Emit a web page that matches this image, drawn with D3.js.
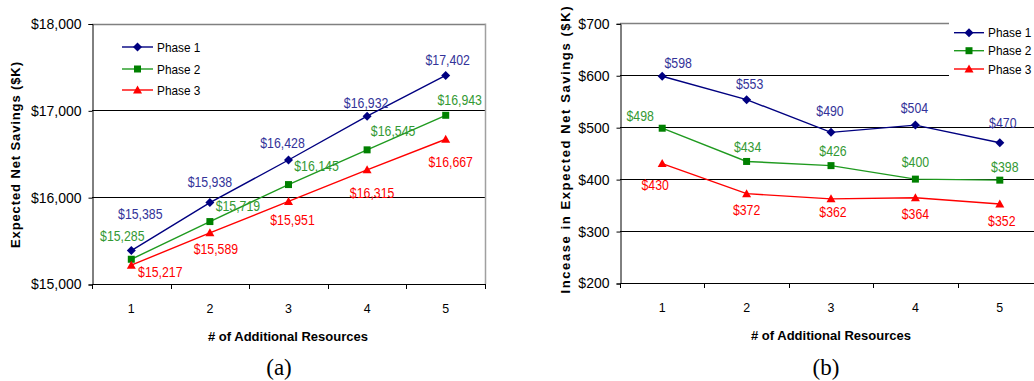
<!DOCTYPE html>
<html>
<head>
<meta charset="utf-8">
<script src="https://cdn.jsdelivr.net/npm/d3@7"></script>
<style>
  html, body { margin: 0; padding: 0; background: #fff; }
  svg { display: block; font-family: "Liberation Sans", Arial, sans-serif; }
</style>
</head>
<body>
<svg id="chart" width="1034" height="381"></svg>
<script>
// ---------- data ----------
const categories = [1, 2, 3, 4, 5];
const seriesNames = ["Phase 1", "Phase 2", "Phase 3"];

const savingsPhase1 = [15385, 15938, 16428, 16932, 17402];
const savingsPhase2 = [15285, 15719, 16145, 16545, 16943];
const savingsPhase3 = [15217, 15589, 15951, 16315, 16667];

const increasePhase1 = [598, 553, 490, 504, 470];
const increasePhase2 = [498, 434, 426, 400, 398];
const increasePhase3 = [430, 372, 362, 364, 352];

const ticksA = [15000, 16000, 17000, 18000];
const ticksB = [200, 300, 400, 500, 600, 700];

const xTitle = "# of Additional Resources";
const yTitleA = "Expected Net Savings ($K)";
const yTitleB = "Incease in Expected Net Savings ($K)";

// ---------- styles / layout ----------
const lineColors = ["#000080", "#1f9a1f", "#ff0000"];
const markColors = ["#000080", "#008000", "#ff0000"];
const labelColors = ["#333399", "#339933", "#ff0000"];
const shapes = ["diamond", "square", "triangle"];

// label offsets (dx, dy) relative to each point
const labelOffsetsA = [
  [[9, -37], [0, -21], [-6, -17], [-1, -13], [2, -15]],
  [[-9, -23], [28, -16], [28, -19], [26, -19], [14, -15]],
  [[29, 7], [6, 16], [4, 19], [5, 23], [5, 23]]
];
const labelOffsetsB = [
  [[16, -13], [3, -16], [-1, -21], [-1, -17], [3, -20]],
  [[-22, -12], [1, -15], [2, -15], [0, -17], [5, -13]],
  [[-7, 21], [0, 16], [2, 13], [0, 16], [2, 17]]
];

const svg = d3.select("#chart");

function markerPath(shape) {
  if (shape === "diamond") return "M0,-4.5L4.5,0L0,4.5L-4.5,0Z";
  if (shape === "square") return "M-3.5,-3.5H3.5V3.5H-3.5Z";
  return "M0,-4.5L4.5,3.5H-4.5Z";
}

function drawChart(cfg) {
  const g = svg.append("g");
  const x = d3.scaleBand().domain(categories).range([cfg.left, cfg.right]);
  const y = d3.scaleLinear().domain(cfg.yDomain).range([cfg.bottom, cfg.top]);

  // gridlines
  g.selectAll("line.grid")
    .data(cfg.yTicks.filter(t => t !== cfg.yDomain[0]))
    .enter().append("line")
    .attr("x1", cfg.left).attr("x2", d => d === cfg.yDomain[1] ? cfg.topLineEnd : cfg.gridEnd)
    .attr("y1", d => Math.round(y(d)) + 0.5).attr("y2", d => Math.round(y(d)) + 0.5)
    .attr("stroke", d => d === cfg.yDomain[1] ? "#808080" : "#000")
    .attr("stroke-width", d => d === cfg.yDomain[1] ? 1.5 : 1);

  // right border (gray)
  if (cfg.rightBorder) {
    g.append("line")
      .attr("x1", cfg.right + 0.5).attr("x2", cfg.right + 0.5)
      .attr("y1", y(cfg.yDomain[1])).attr("y2", cfg.bottom)
      .attr("stroke", "#a0a0a0").attr("stroke-width", 1.5);
  }

  // y axis
  const yAxis = d3.axisLeft(y).tickValues(cfg.yTicks).tickSize(4).tickPadding(7)
    .tickFormat(d => "$" + d3.format(",")(d));
  const ya = g.append("g").attr("transform", `translate(${cfg.left + 0.5},0.5)`).call(yAxis);
  ya.select(".domain").attr("stroke", "#000");
  ya.selectAll(".tick line").attr("stroke", "#000");
  ya.selectAll(".tick text").attr("font-size", cfg.yTickSize).attr("fill", "#000")
    .attr("font-family", "Liberation Sans, Arial, sans-serif");

  // x axis
  g.append("line")
    .attr("x1", cfg.left).attr("x2", cfg.axisEnd)
    .attr("y1", cfg.bottom + 0.5).attr("y2", cfg.bottom + 0.5)
    .attr("stroke", "#000");
  const bounds = categories.map(c => x(c)).concat([x(categories[categories.length - 1]) + x.bandwidth()]);
  g.selectAll("line.xtick").data(bounds).enter().append("line")
    .attr("x1", d => Math.round(d) + 0.5).attr("x2", d => Math.round(d) + 0.5)
    .attr("y1", cfg.bottom).attr("y2", cfg.bottom + 5)
    .attr("stroke", "#000");
  g.selectAll("text.xlab").data(categories).enter().append("text")
    .attr("transform", d => `translate(${x(d) + x.bandwidth() / 2},${cfg.bottom + 29}) scale(0.92,1)`)
    .attr("text-anchor", "middle")
    .attr("font-size", 13.5)
    .text(d => d);

  // axis titles
  g.append("text")
    .attr("x", cfg.xTitleX).attr("y", cfg.bottom + 57)
    .attr("text-anchor", "middle")
    .attr("font-size", 13).attr("font-weight", "bold")
    .attr("textLength", cfg.xTitleLen).attr("lengthAdjust", "spacingAndGlyphs")
    .text(xTitle);
  g.append("text")
    .attr("transform", `translate(${cfg.yTitleX},${cfg.yTitleY}) rotate(-90)`)
    .attr("text-anchor", "middle")
    .attr("dy", "0.36em")
    .attr("font-size", 13).attr("font-weight", "bold")
    .attr("textLength", cfg.yTitleLen).attr("lengthAdjust", "spacing")
    .text(cfg.yTitle);

  // panel caption
  g.append("text")
    .attr("x", cfg.captionX).attr("y", 375)
    .attr("text-anchor", "middle")
    .attr("font-family", "Liberation Serif, Times New Roman, serif")
    .attr("font-size", 23)
    .text(cfg.caption);

  // legend background
  if (cfg.legendBox) {
    g.append("rect")
      .attr("x", cfg.legendBox[0]).attr("y", cfg.legendBox[1])
      .attr("width", cfg.legendBox[2]).attr("height", cfg.legendBox[3])
      .attr("fill", "#fff");
  }

  // series
  const line = d3.line().x((d, i) => x(categories[i]) + x.bandwidth() / 2).y(d => y(d));
  cfg.series.forEach((vals, s) => {
    g.append("path").datum(vals)
      .attr("d", line).attr("fill", "none")
      .attr("stroke", lineColors[s]).attr("stroke-width", 1.4);
  });
  cfg.series.forEach((vals, s) => {
    g.selectAll(null).data(vals).enter().append("path")
      .attr("transform", (d, i) => `translate(${x(categories[i]) + x.bandwidth() / 2},${y(d)})`)
      .attr("d", markerPath(shapes[s]))
      .attr("fill", markColors[s]);
  });
  cfg.series.forEach((vals, s) => {
    g.selectAll(null).data(vals).enter().append("text")
      .attr("transform", (d, i) =>
        `translate(${x(categories[i]) + x.bandwidth() / 2 + cfg.offsets[s][i][0]},${y(d) + cfg.offsets[s][i][1]}) scale(0.88,1)`)
      .attr("dy", "0.36em")
      .attr("text-anchor", "middle")
      .attr("font-size", 14)
      .attr("fill", labelColors[s])
      .text(d => "$" + d3.format(",")(d));
  });

  // legend
  const lg = g.append("g");
  seriesNames.forEach((name, s) => {
    const ly = cfg.legend.y[s];
    lg.append("line")
      .attr("x1", cfg.legend.x1).attr("x2", cfg.legend.x2)
      .attr("y1", ly).attr("y2", ly)
      .attr("stroke", lineColors[s]).attr("stroke-width", 1.4);
    lg.append("path")
      .attr("transform", `translate(${(cfg.legend.x1 + cfg.legend.x2) / 2},${ly})`)
      .attr("d", markerPath(shapes[s]))
      .attr("fill", markColors[s]);
    lg.append("text")
      .attr("transform", `translate(${cfg.legend.x2 + 4},${ly}) scale(0.91,1)`)
      .attr("dy", "0.36em")
      .attr("font-size", 13).attr("fill", "#000")
      .text(name);
  });
}

drawChart({
  left: 92, right: 485, top: 23.5, bottom: 284,
  yDomain: [15000, 18000], yTicks: ticksA, yTickSize: 14,
  gridEnd: 485, topLineEnd: 485, axisEnd: 485, rightBorder: true,
  series: [savingsPhase1, savingsPhase2, savingsPhase3],
  offsets: labelOffsetsA,
  xTitleX: 288, xTitleLen: 160,
  yTitle: yTitleA, yTitleX: 15, yTitleY: 155, yTitleLen: 186,
  caption: "(a)", captionX: 279,
  legend: { x1: 122, x2: 153, y: [47, 69, 90] }
});

drawChart({
  left: 620, right: 1042, top: 23.3, bottom: 283,
  yDomain: [200, 700], yTicks: ticksB, yTickSize: 14,
  gridEnd: 1034, topLineEnd: 1034, axisEnd: 1034, rightBorder: false,
  series: [increasePhase1, increasePhase2, increasePhase3],
  offsets: labelOffsetsB,
  xTitleX: 831, xTitleLen: 160,
  yTitle: yTitleB, yTitleX: 565, yTitleY: 150, yTitleLen: 287,
  caption: "(b)", captionX: 826,
  legendBox: [949, 15, 85, 70],
  legend: { x1: 954, x2: 984, y: [32.7, 50.7, 69] }
});
</script>
</body>
</html>
